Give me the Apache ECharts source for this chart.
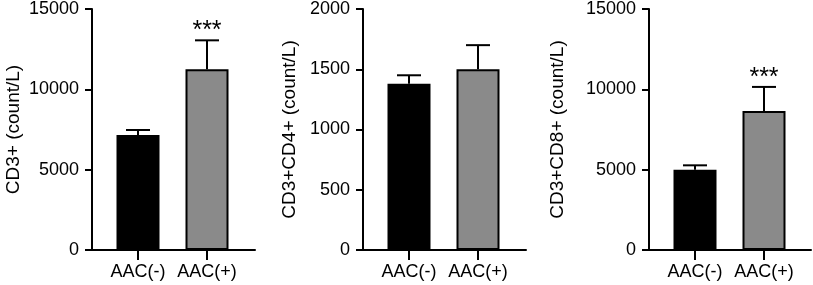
<!DOCTYPE html>
<html><head><meta charset="utf-8">
<script src="https://cdn.jsdelivr.net/npm/echarts@6/dist/echarts.min.js"></script>
<style>html,body{margin:0;padding:0;background:#fff}#c{width:813px;height:285px}</style>
</head><body><div id="c"></div>
<script>
const categories = ['AAC(-)', 'AAC(+)'];
const titles = ['CD3+ (count/L)', 'CD3+CD4+ (count/L)', 'CD3+CD8+ (count/L)'];
const cd3Mean = [7150, 11250];
const cd3Sd = [320, 1800];
const cd4Mean = [1380, 1500];
const cd4Sd = [70, 200];
const cd8Mean = [5000, 8650];
const cd8Sd = [270, 1500];
const yMax = [15000, 2000, 15000];
const yStep = [5000, 500, 5000];
const sigMarks = [['', '***'], ['', ''], ['', '***']];
const barColors = ['#000000', '#8a8a8a'];

const means = [cd3Mean, cd4Mean, cd8Mean];
const sds = [cd3Sd, cd4Sd, cd8Sd];
const lefts = [92, 363, 649];
const widths = [163, 163, 162];
const nameGaps = [69, 64, 82];
const FONT = '"Liberation Sans", Arial, sans-serif';
const firstOffset = 46, step = 69;

const grid = [], xAxis = [], yAxis = [], series = [];
for (let i = 0; i < 3; i++) {
  grid.push({left: lefts[i], top: 9, width: widths[i], height: 241});
  const pos = categories.map((c, k) => k);
  xAxis.push({
    type: 'value', gridIndex: i,
    min: -firstOffset / step, max: (widths[i] - firstOffset) / step,
    splitLine: {show: false},
    axisLine: {show: true, onZero: false, lineStyle: {color: '#000', width: 2}},
    axisTick: {show: true, customValues: pos, length: 10, lineStyle: {color: '#000', width: 2}},
    axisLabel: {show: true, customValues: pos, formatter: v => categories[Math.round(v)] || '',
      fontSize: 18, color: '#000', fontFamily: FONT, margin: 13}
  });
  yAxis.push({
    type: 'value', gridIndex: i, min: 0, max: yMax[i], interval: yStep[i],
    name: titles[i], nameLocation: 'middle', nameRotate: 90, nameGap: nameGaps[i],
    nameTextStyle: {fontSize: 19, color: '#000', fontFamily: FONT},
    splitLine: {show: false},
    axisLine: {show: true, onZero: false, lineStyle: {color: '#000', width: 2}},
    axisTick: {show: true, length: 7, lineStyle: {color: '#000', width: 2}},
    axisLabel: {fontSize: 18, color: '#000', fontFamily: FONT, margin: 13, formatter: v => String(v)}
  });
  series.push({
    type: 'bar', xAxisIndex: i, yAxisIndex: i, barWidth: 43, silent: true,
    data: categories.map((c, k) => ({value: [k, means[i][k]],
      itemStyle: {color: barColors[k], borderColor: '#000', borderWidth: 2}}))
  });
  series.push({
    type: 'custom', xAxisIndex: i, yAxisIndex: i, silent: true, z: 5,
    data: categories.map((c, k) => [k, means[i][k], means[i][k] + sds[i][k], sigMarks[i][k]]),
    renderItem: (params, api) => {
      const p0 = api.coord([api.value(0), api.value(1)]);
      const p1 = api.coord([api.value(0), api.value(2)]);
      const st = {stroke: '#000', lineWidth: 2};
      const children = [
        {type: 'line', shape: {x1: p0[0], y1: p0[1], x2: p1[0], y2: p1[1]}, style: st},
        {type: 'line', shape: {x1: p1[0] - 12, y1: p1[1], x2: p1[0] + 12, y2: p1[1]}, style: st}
      ];
      const s = sigMarks[i][params.dataIndex];
      if (s) children.push({type: 'text', style: {text: s, x: p1[0], y: p1[1] - 9,
        align: 'center', verticalAlign: 'middle', fontSize: 25, fontFamily: FONT, fill: '#000'}});
      return {type: 'group', children};
    }
  });
}
const chart = echarts.init(document.getElementById('c'), null, {renderer: 'canvas'});
chart.setOption({animation: false, grid, xAxis, yAxis, series});
</script></body></html>
